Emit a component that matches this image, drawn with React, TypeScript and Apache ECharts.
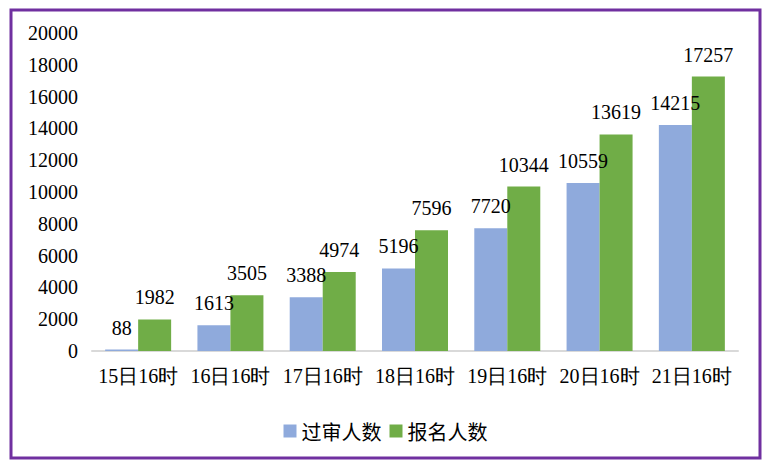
import React, { useEffect, useRef } from "react";
import * as echarts from "echarts";

const categories = ["15日16时", "16日16时", "17日16时", "18日16时", "19日16时", "20日16时", "21日16时"];
const reviewed = [88, 1613, 3388, 5196, 7720, 10559, 14215];
const registered = [1982, 3505, 4974, 7596, 10344, 13619, 17257];
const seriesNames = ["过审人数", "报名人数"];

const FONT = "serif";

export default function App() {
  const ref = useRef<HTMLDivElement>(null);
  useEffect(() => {
    if (!ref.current) return;
    const chart = echarts.init(ref.current, null, { renderer: "svg" });
    const label = {
      show: true,
      position: "top",
      distance: 12,
      color: "#000",
      fontSize: 20,
      fontFamily: FONT,
    };
    chart.setOption({
      animation: false,
      graphic: [
        {
          type: "rect",
          shape: { x: 11, y: 10, width: 749, height: 448 },
          style: { fill: "none", stroke: "#7030A0", lineWidth: 3 },
          silent: true,
        },
      ],
      grid: { left: 92, right: 33, top: 33, bottom: 117 },
      legend: {
        data: seriesNames,
        left: "center",
        top: 416,
        icon: "rect",
        itemWidth: 13,
        itemHeight: 13,
        itemGap: 8,
        textStyle: { fontSize: 20, color: "#000", fontFamily: "Noto Sans CJK SC" },
      },
      xAxis: {
        type: "category",
        data: categories,
        axisLine: { lineStyle: { color: "#D9D9D9", width: 2 } },
        axisTick: { show: false },
        axisLabel: { color: "#000", fontSize: 20, fontFamily: FONT, margin: 15, interval: 0 },
      },
      yAxis: {
        type: "value",
        min: 0,
        max: 20000,
        interval: 2000,
        axisLine: { show: false },
        axisTick: { show: false },
        splitLine: { show: false },
        axisLabel: {
          color: "#000",
          fontSize: 20,
          fontFamily: FONT,
          margin: 14,
          formatter: (v: number) => String(v),
        },
      },
      series: [
        {
          name: seriesNames[0],
          type: "bar",
          data: reviewed,
          barWidth: 33,
          barGap: "0%",
          itemStyle: { color: "#8FAADC" },
          label,
        },
        {
          name: seriesNames[1],
          type: "bar",
          data: registered,
          barWidth: 33,
          barGap: "0%",
          itemStyle: { color: "#70AD47" },
          label,
        },
      ],
    });
    return () => chart.dispose();
  }, []);
  return <div ref={ref} style={{ width: 771, height: 468, position: "absolute", left: 0, top: 0 }} />;
}
